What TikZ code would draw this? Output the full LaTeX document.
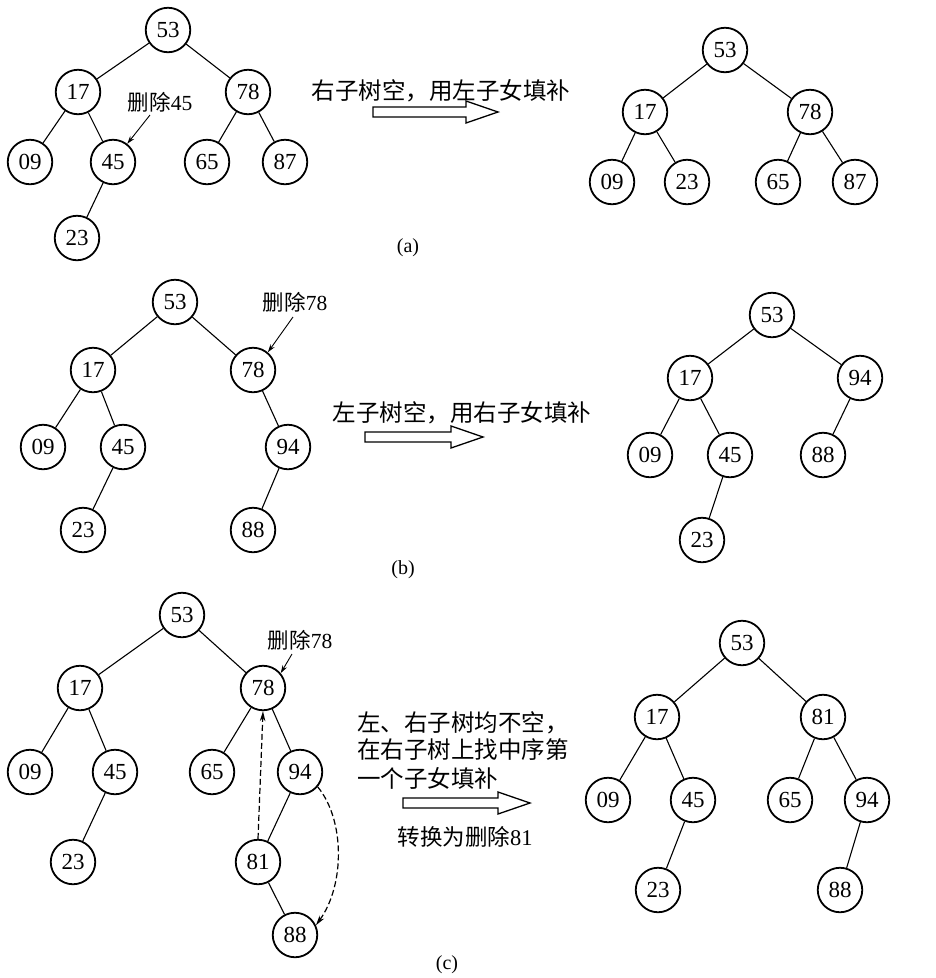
\documentclass[tikz,border=0pt]{standalone}
\usepackage{fontspec}
\setmainfont{Liberation Serif}
\newfontfamily\cjk{Noto Sans CJK SC}
\usetikzlibrary{arrows.meta,calc}
\newcommand\fatarrow[2]{%
  \draw[fatline] ($(#1)+(0,-5)$) -- ($(#2)+(-32,-5)$) -- ($(#2)+(-32,-11)$) -- (#2)
    -- ($(#2)+(-32,11)$) -- ($(#2)+(-32,5)$) -- ($(#1)+(0,5)$) -- cycle;}
\begin{document}
\begin{tikzpicture}[x=1pt,y=-1pt,
  nd/.style={circle,draw,line width=1.8pt,minimum size=44.5pt,inner sep=0pt,
    font=\fontsize{23}{23}\selectfont},
  ed/.style={line width=1.1pt},
  fatline/.style={line width=1.3pt},
  ptr/.style={line width=0.9pt,-{Stealth[length=8pt,width=5pt]}},
  dsh/.style={line width=1.2pt,dash pattern=on 6pt off 3pt,-{Stealth[length=10pt,width=5.5pt]}},
  lbl/.style={font=\cjk\fontsize{21.5}{22}\selectfont,inner sep=0pt},
  desc/.style={font=\cjk\fontsize{23.5}{24}\selectfont,inner sep=0pt},
  captxt/.style={font=\fontsize{20}{20}\selectfont,inner sep=0pt}]
\useasboundingbox (0,0) rectangle (936,978);

% ---------------- (a) ----------------
\node[nd] (a53) at (168,30) {53};
\node[nd] (a17) at (78,92) {17};
\node[nd] (a78) at (248,92) {78};
\node[nd] (a09) at (30,162) {09};
\node[nd] (a45) at (113,162) {45};
\node[nd] (a65) at (207,162) {65};
\node[nd] (a87) at (285,162) {87};
\node[nd] (a23) at (77,238) {23};
\draw[ed] (a53)--(a17) (a53)--(a78) (a17)--(a09) (a17)--(a45) (a45)--(a23)
          (a78)--(a65) (a78)--(a87);
\node[lbl] (la) at (160,102) {删除\fontspec{Liberation Serif}45};
\coordinate (pa) at (150,115);
\draw[ptr] (pa) -- (a45.52);
\node[desc] (da) at (441,91) {右子树空，用左子女填补};
\coordinate (fa1) at (373,112);
\coordinate (fa2) at (498,112);
\fatarrow{fa1}{fa2}
\node[nd] (A53) at (725,50) {53};
\node[nd] (A17) at (645,112) {17};
\node[nd] (A78) at (810,112) {78};
\node[nd] (A09) at (612,182) {09};
\node[nd] (A23) at (687,182) {23};
\node[nd] (A65) at (778,182) {65};
\node[nd] (A87) at (855,182) {87};
\draw[ed] (A53)--(A17) (A53)--(A78) (A17)--(A09) (A17)--(A23) (A78)--(A65) (A78)--(A87);
\node[captxt] (capa) at (408,248) {(a)};

% ---------------- (b) ----------------
\node[nd] (b53) at (175,302) {53};
\node[nd] (b17) at (93,370) {17};
\node[nd] (b78) at (253,370) {78};
\node[nd] (b09) at (43,447) {09};
\node[nd] (b45) at (123,447) {45};
\node[nd] (b94) at (288,447) {94};
\node[nd] (b23) at (83,530) {23};
\node[nd] (b88) at (253,530) {88};
\draw[ed] (b53)--(b17) (b53)--(b78) (b17)--(b09) (b17)--(b45) (b45)--(b23)
          (b78)--(b94) (b94)--(b88);
\node[lbl] (lb) at (295,302) {删除\fontspec{Liberation Serif}78};
\coordinate (pb) at (293,317);
\draw[ptr] (pb) -- (b78.50);
\node[desc] (db) at (462,413) {左子树空，用右子女填补};
\coordinate (fb1) at (365,437);
\coordinate (fb2) at (483,437);
\fatarrow{fb1}{fb2}
\node[nd] (B53) at (772,315) {53};
\node[nd] (B17) at (690,378) {17};
\node[nd] (B94) at (860,378) {94};
\node[nd] (B09) at (650,455) {09};
\node[nd] (B45) at (730,455) {45};
\node[nd] (B88) at (823,455) {88};
\node[nd] (B23) at (702,540) {23};
\draw[ed] (B53)--(B17) (B53)--(B94) (B17)--(B09) (B17)--(B45) (B45)--(B23) (B94)--(B88);
\node[captxt] (capb) at (403,570) {(b)};

% ---------------- (c) ----------------
\node[nd] (c53) at (182,615) {53};
\node[nd] (c17) at (80,688) {17};
\node[nd] (c78) at (263,688) {78};
\node[nd] (c09) at (30,772) {09};
\node[nd] (c45) at (115,772) {45};
\node[nd] (c65) at (212,772) {65};
\node[nd] (c94) at (300,772) {94};
\node[nd] (c23) at (73,862) {23};
\node[nd] (c81) at (258,862) {81};
\node[nd] (c88) at (295,935) {88};
\draw[ed] (c53)--(c17) (c53)--(c78) (c17)--(c09) (c17)--(c45) (c45)--(c23)
          (c78)--(c65) (c78)--(c94) (c94)--(c81) (c81)--(c88);
\node[lbl] (lc) at (300,640) {删除\fontspec{Liberation Serif}78};
\coordinate (pc) at (292,654);
\draw[ptr] (pc) -- (c78.40);
\draw[dsh] (c81.north) -- (c78.south);
\draw[dsh] (c94.-40) .. controls (345,820) and (345,885) .. (c88.25);
\node[desc,anchor=west] (t1) at (357,723) {左、右子树均不空，};
\node[desc,anchor=west] (t2) at (357,750) {在右子树上找中序第};
\node[desc,anchor=west] (t3) at (357,778) {一个子女填补};
\coordinate (fc1) at (403,803);
\coordinate (fc2) at (530,803);
\fatarrow{fc1}{fc2}
\node[lbl,font=\cjk\fontsize{22.5}{23}\selectfont] (tc) at (465,837) {转换为删除\fontspec{Liberation Serif}81};
\node[nd] (C53) at (742,643) {53};
\node[nd] (C17) at (657,717) {17};
\node[nd] (C81) at (823,717) {81};
\node[nd] (C09) at (608,800) {09};
\node[nd] (C45) at (693,800) {45};
\node[nd] (C65) at (790,800) {65};
\node[nd] (C94) at (867,800) {94};
\node[nd] (C23) at (658,890) {23};
\node[nd] (C88) at (840,890) {88};
\draw[ed] (C53)--(C17) (C53)--(C81) (C17)--(C09) (C17)--(C45) (C45)--(C23)
          (C81)--(C65) (C81)--(C94) (C94)--(C88);
\node[captxt] (capc) at (447,965) {(c)};
\end{tikzpicture}
\end{document}
